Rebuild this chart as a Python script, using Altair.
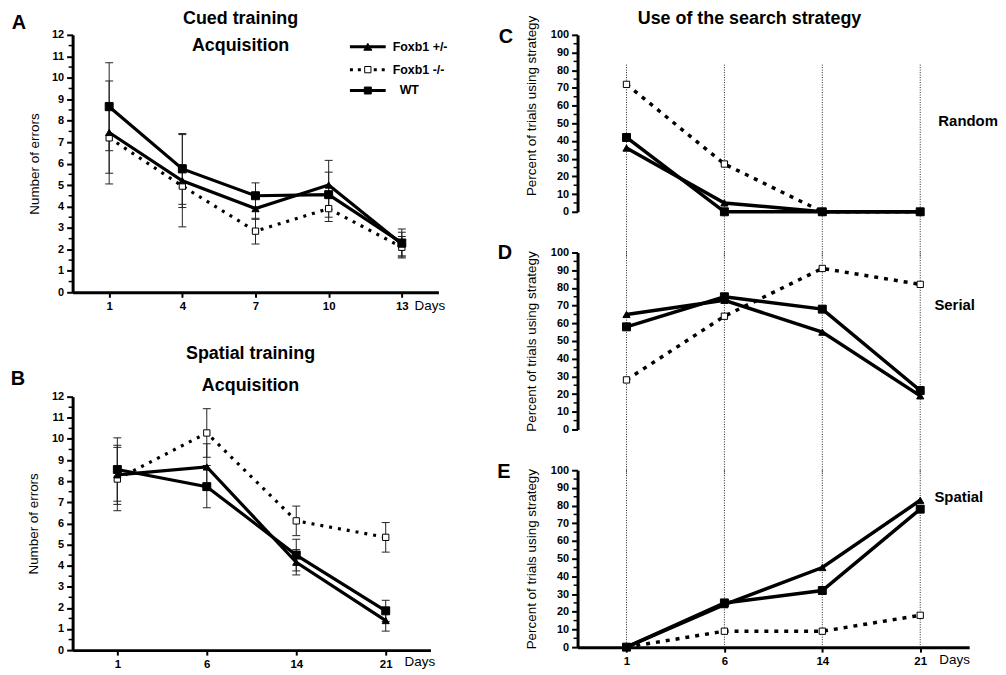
import altair as alt
import pandas as pd

FONT = "Liberation Sans"
HET, KO, WT = "Foxb1 +/-", "Foxb1 -/-", "WT"
SERIES = [KO, HET, WT]  # drawing order

# ---------------- Panel A : cued training ----------------
A_DAYS = [1, 4, 7, 10, 13]
A_HET = [7.45, 5.2, 3.9, 5.0, 2.25]
A_KO = [7.2, 4.95, 2.85, 3.9, 2.1]
A_WT = [8.65, 5.75, 4.5, 4.55, 2.3]
A_HET_ERR = [2.4, 2.15, 0.5, 1.15, 0.55]
A_KO_ERR = [1.65, 1.0, 0.6, 0.6, 0.5]
A_WT_ERR = [2.05, 1.65, 0.6, 1.05, 0.65]

# ---------------- Panel B : spatial training ----------------
B_DAYS = [1, 6, 14, 21]
B_HET = [8.3, 8.67, 4.16, 1.4]
B_KO = [8.1, 10.28, 6.12, 5.34]
B_WT = [8.55, 7.74, 4.5, 1.86]
B_HET_ERR = [1.4, 1.1, 0.6, 0.5]
B_KO_ERR = [1.5, 1.15, 0.7, 0.7]
B_WT_ERR = [1.5, 1.0, 0.75, 0.5]

# ---------------- Panels C, D, E : search strategy ----------------
S_DAYS = [1, 6, 14, 21]
C_HET = [36, 5, 0, 0]
C_KO = [72, 27, 0, 0]
C_WT = [42, 0, 0, 0]
D_HET = [65, 73, 55, 19]
D_KO = [28, 64, 91, 82]
D_WT = [58, 75, 68, 22]
E_HET = [0, 24, 45, 83]
E_KO = [0, 9, 9, 18]
E_WT = [0, 25, 32, 78]

ERR_TICKS = list(range(0, 13))
ERR_MINOR = [i + 0.5 for i in range(12)]
PCT_TICKS = list(range(0, 101, 10))
PCT_MINOR = [i + 5 for i in range(0, 100, 10)]


def long_df(days, het, ko, wt, het_err=None, ko_err=None, wt_err=None):
    rows = []
    for name, vals, errs in ((KO, ko, ko_err), (HET, het, het_err), (WT, wt, wt_err)):
        for i, d in enumerate(days):
            r = {"day": d, "series": name, "value": vals[i]}
            if errs is not None:
                r["lo"] = vals[i] - errs[i]
                r["hi"] = vals[i] + errs[i]
            rows.append(r)
    return pd.DataFrame(rows)


def text_layer(txt, x, y, size, weight="bold", align="center"):
    return alt.Chart(pd.DataFrame({"t": [txt]})).mark_text(
        font=FONT, fontSize=size, fontWeight=weight, align=align,
        baseline="middle", color="black"
    ).encode(x=alt.value(x), y=alt.value(y), text="t:N")


def panel(df, days, ydom, ymajor, yminor, w, h, ytitle, tx, ty, xaxis_on,
          err, msizes, lw, dash, vrule=None, extras=()):
    if xaxis_on:
        xaxis = alt.Axis(values=days, labelAngle=0, labelFont=FONT, labelFontSize=11.5,
                         labelFontWeight="bold", labelColor="black", tickSize=5,
                         tickWidth=2, tickColor="black", domainWidth=3,
                         domainColor="black", labelPadding=3, grid=False)
    else:
        xaxis = None
    xe = alt.X("day:O", scale=alt.Scale(type="point", domain=days, padding=0.5),
               axis=xaxis, title=None)
    yaxis = alt.Axis(values=ymajor, title=ytitle, titleX=tx, titleY=ty,
                     titleFont=FONT, titleFontSize=13.5, titleFontWeight="normal",
                     titleColor="black", titleBaseline="middle", titleAlign="center",
                     labelFont=FONT, labelFontSize=11, labelFontWeight="bold",
                     labelColor="black", tickSize=6, tickWidth=2, tickColor="black",
                     domainWidth=3, domainColor="black", labelPadding=3, grid=False)

    def ye(f):
        return alt.Y(f"{f}:Q", scale=alt.Scale(domain=ydom, nice=False, zero=False),
                     axis=yaxis)

    layers = []
    if vrule is not None:
        layers.append(
            alt.Chart(pd.DataFrame({"day": days})).mark_rule(
                color="#222", strokeWidth=1, strokeDash=[1, 1.5]
            ).encode(x=xe, y=alt.value(vrule[0]), y2=alt.value(vrule[1]))
        )
    layers.append(
        alt.Chart(pd.DataFrame({"v": yminor})).mark_rule(color="black", strokeWidth=1.5)
        .encode(y=ye("v"), x=alt.value(-4), x2=alt.value(0))
    )
    base = alt.Chart(df)
    if err:
        layers.append(base.mark_rule(color="#222", strokeWidth=1).encode(x=xe, y=ye("lo"), y2="hi:Q"))
        layers.append(base.mark_tick(color="#222", orient="horizontal", size=8, thickness=1, opacity=1)
                      .encode(x=xe, y=ye("hi")))
        layers.append(base.mark_tick(color="#222", orient="horizontal", size=8, thickness=1, opacity=1)
                      .encode(x=xe, y=ye("lo")))
    layers.append(
        base.transform_filter(alt.datum.series == KO)
        .mark_line(color="black", strokeWidth=lw, strokeDash=dash, strokeCap="butt")
        .encode(x=xe, y=ye("value"))
    )
    layers.append(
        base.transform_filter(alt.datum.series != KO)
        .mark_line(color="black", strokeWidth=lw)
        .encode(x=xe, y=ye("value"), detail="series:N")
    )
    layers.append(
        base.mark_point(filled=True, opacity=1, stroke="black", strokeWidth=1).encode(
            x=xe, y=ye("value"),
            shape=alt.Shape("series:N", scale=alt.Scale(domain=[KO, HET, WT],
                            range=["square", "triangle-up", "square"]), legend=None),
            fill=alt.Fill("series:N", scale=alt.Scale(domain=[KO, HET, WT],
                          range=["white", "black", "black"]), legend=None),
            size=alt.Size("series:O", scale=alt.Scale(domain=[KO, HET, WT], range=msizes),
                          legend=None),
            order=alt.Order("series_order:Q"),
        ).transform_calculate(series_order=f"datum.series == '{KO}' ? 0 : (datum.series == '{HET}' ? 1 : 2)")
    )
    layers.extend(extras)
    return alt.layer(*layers).properties(width=w, height=h)


# ---- legend inside panel A ----
def legend_rows():
    out = []
    rows = [(HET, 12, "triangle-up", "black", 64, None, 322),
            (KO, 35, "square", "white", 40, [3, 5], 322),
            (WT, 56, "square", "black", 49, None, 329)]
    for name, y, shape, fill, size, dash, tx in rows:
        rule = alt.Chart(pd.DataFrame({"s": [name]}))
        if dash:
            out.append(rule.mark_rule(color="black", strokeWidth=3, strokeDash=dash)
                       .encode(x=alt.value(279), x2=alt.value(315), y=alt.value(y)))
        else:
            out.append(rule.mark_rule(color="black", strokeWidth=3)
                       .encode(x=alt.value(279), x2=alt.value(315), y=alt.value(y)))
        out.append(alt.Chart(pd.DataFrame({"s": [name]})).mark_point(
            shape=shape, filled=True, fill=fill, stroke="black", strokeWidth=1,
            size=size, opacity=1).encode(x=alt.value(297), y=alt.value(y)))
        out.append(text_layer(name, tx, y, 12.5, align="left"))
    return out


A_W, A_H, B_W, B_H, S_W, S_H = 368, 259, 360, 255, 394, 178
dfA = long_df(A_DAYS, A_HET, A_KO, A_WT, A_HET_ERR, A_KO_ERR, A_WT_ERR)
dfB = long_df(B_DAYS, B_HET, B_KO, B_WT, B_HET_ERR, B_KO_ERR, B_WT_ERR)
dfC = long_df(S_DAYS, C_HET, C_KO, C_WT)
dfD = long_df(S_DAYS, D_HET, D_KO, D_WT)
dfE = long_df(S_DAYS, E_HET, E_KO, E_WT)

small = [40, 64, 45]
big = [55, 150, 85]

chartA = panel(dfA, A_DAYS, [0, 12], ERR_TICKS, ERR_MINOR, A_W, A_H, "Number of errors",
               -38, A_H / 2, True, True, small, 3.2, [3, 6],
               extras=[text_layer("A", -54, -12, 20),
                       text_layer("Cued training", 169, -16, 18),
                       text_layer("Acquisition", 169, 11, 18),
                       text_layer("Days", 344, A_H + 14, 13.5, weight="normal", align="left")]
               + legend_rows())
chartB = panel(dfB, B_DAYS, [0, 12], ERR_TICKS, ERR_MINOR, B_W, B_H, "Number of errors",
               -39, B_H / 2, True, True, small, 3.2, [3, 6],
               extras=[text_layer("B", -55, -18, 20),
                       text_layer("Spatial training", 179, -43, 18),
                       text_layer("Acquisition", 179, -11, 18),
                       text_layer("Days", 334, B_H + 12, 13.5, weight="normal", align="left")])
PT = "Percent of  trials using strategy"
chartC = panel(dfC, S_DAYS, [0, 100], PCT_TICKS, PCT_MINOR, S_W, S_H, PT, -46, 71, False,
               False, big, 3.5, [4, 6], vrule=(30, S_H + 45),
               extras=[text_layer("C", -72, 2, 20),
                       text_layer("Use of the search strategy", 173, -16, 18),
                       text_layer("Random", 363, 87, 15, align="left")])
chartD = panel(dfD, S_DAYS, [0, 100], PCT_TICKS, PCT_MINOR, S_W, S_H, PT, -46, S_H / 2, False,
               False, big, 3.5, [4, 6], vrule=(0, S_H + 45),
               extras=[text_layer("D", -73, 1, 20),
                       text_layer("Serial", 359, 53, 15, align="left")])
chartE = panel(dfE, S_DAYS, [0, 100], PCT_TICKS, PCT_MINOR, S_W, S_H, PT, -46, S_H / 2, True,
               False, big, 3.5, [4, 6], vrule=(0, S_H),
               extras=[text_layer("E", -74, 2, 20),
                       text_layer("Spatial", 359, 27, 15, align="left"),
                       text_layer("Days", 364, S_H + 13, 13.5, weight="normal", align="left")])

left = alt.vconcat(chartA, chartB, spacing=105, bounds="flush")
right = alt.vconcat(chartC, chartD, chartE, spacing=41, bounds="flush")
# nested column counts as zero width under flush bounds, so the gap includes panel A's width
chart = alt.hconcat(left, right, spacing=A_W + 140, bounds="flush").properties(
    padding={"left": 2, "top": 0, "right": 0, "bottom": 0}
).configure(font=FONT).configure_view(stroke=None)

chart.save("out.html", embed_options={"renderer": "svg", "actions": False})
